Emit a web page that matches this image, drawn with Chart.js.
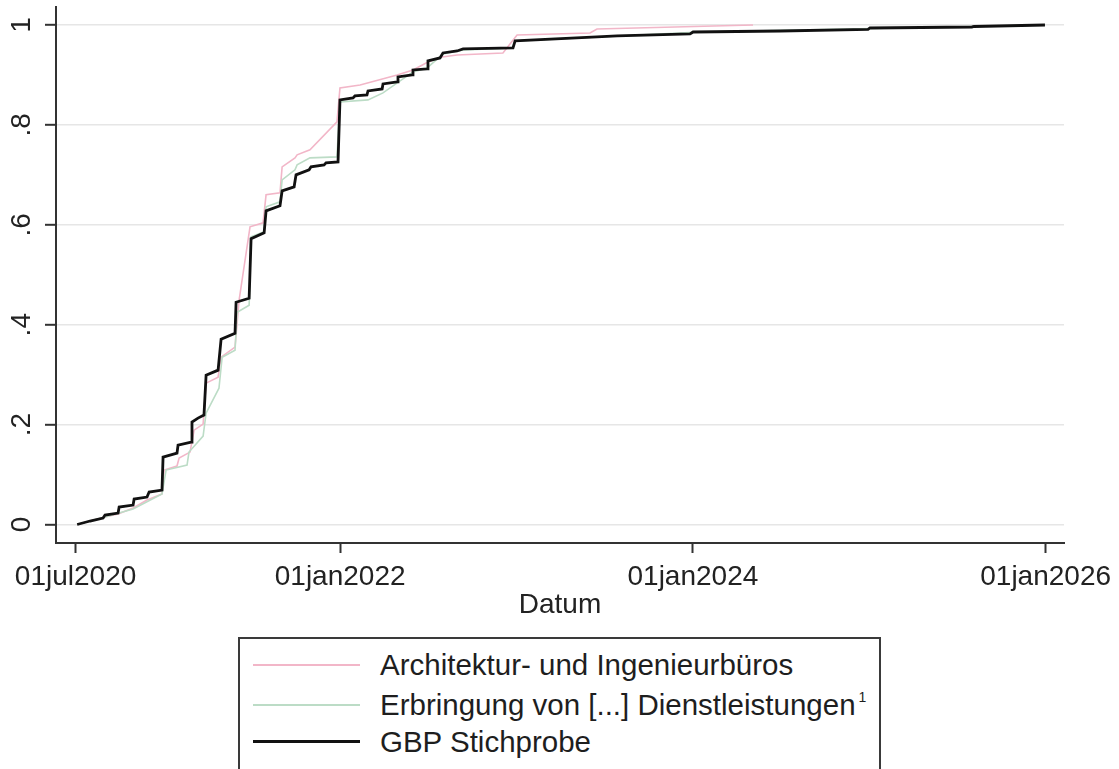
<!DOCTYPE html>
<html lang="de">
<head>
<meta charset="UTF-8">
<title>Kumulierte Verteilung nach Datum</title>
<script src="https://cdn.jsdelivr.net/npm/chart.js"></script>
<style>
    body { margin: 0; background: #fff; overflow: hidden; font-family: 'Liberation Sans', Arial, sans-serif; }
    .wrap { position: relative; width: 1119px; height: 769px; }
    #legend { position: absolute; left: 238px; top: 637px; width: 643px; height: 150px; border: 2px solid #3a3a3a; box-sizing: border-box; background: #fff; }
    .row { position: absolute; left: 0; height: 32px; width: 100%; }
    .key { position: absolute; left: 13px; width: 107px; top: 15px; }
    .txt { position: absolute; left: 140px; top: 0; line-height: 32px; font-size: 29.5px; color: #1e1e1e; white-space: nowrap; }
    .txt .fn { font-size: 14px; line-height: 0; position: relative; top: -13px; margin-left: 3px; }
</style>
</head>
<body>
<div class="wrap">
    <canvas id="cdf"></canvas>
    <div id="legend">
        <div class="row" style="top:10px"><div class="key" style="height:2px;background:#f2b6c8"></div><div class="txt">Architektur- und Ingenieurbüros</div></div>
        <div class="row" style="top:50px"><div class="key" style="height:2px;background:#bcdcc6"></div><div class="txt">Erbringung von [...] Dienstleistungen<span class="fn">1</span></div></div>
        <div class="row" style="top:87px"><div class="key" style="height:3px;top:14px;background:#111"></div><div class="txt">GBP Stichprobe</div></div>
    </div>
</div>

<script>
// x values are decimal years (2020.5 = 01jul2020)
const xTickValues = [2020.5, 2022, 2024, 2026];
const xTickLabels = ['01jul2020', '01jan2022', '01jan2024', '01jan2026'];
const yTickValues = [0, 0.2, 0.4, 0.6, 0.8, 1];
const yTickLabels = ['0', '.2', '.4', '.6', '.8', '1'];

const architekturDates = [
    2020.509, 2020.667, 2020.741, 2020.826, 2020.905, 2020.990, 2021.002, 2021.075,
    2021.087, 2021.149, 2021.172, 2021.223, 2021.240, 2021.308, 2021.325, 2021.404,
    2021.427, 2021.489, 2021.563, 2021.580, 2021.659, 2021.671, 2021.744, 2021.756,
    2021.829, 2021.982, 2021.999, 2022.113, 2022.323, 2022.413, 2022.498, 2022.578,
    2022.663, 2022.923, 2023.003, 2023.417, 2023.456, 2024.341
];
const architekturShares = [
    0, 0.015, 0.021, 0.033, 0.049, 0.061, 0.109, 0.117,
    0.133, 0.145, 0.189, 0.201, 0.283, 0.295, 0.335, 0.355,
    0.449, 0.596, 0.604, 0.660, 0.664, 0.716, 0.734, 0.740,
    0.750, 0.806, 0.874, 0.880, 0.900, 0.910, 0.926, 0.936,
    0.940, 0.944, 0.980, 0.984, 0.992, 1
];

const dienstDates = [
    2020.509, 2020.667, 2020.826, 2020.990, 2021.013, 2021.132, 2021.143, 2021.223,
    2021.240, 2021.313, 2021.331, 2021.404, 2021.416, 2021.484, 2021.495, 2021.569,
    2021.580, 2021.659, 2021.671, 2021.744, 2021.756, 2021.829, 2021.982, 2021.999,
    2022.158, 2022.243, 2022.413, 2022.493, 2022.583, 2022.697, 2022.980, 2022.992,
    2024.040, 2025.996
];
const dienstShares = [
    0, 0.015, 0.031, 0.061, 0.109, 0.119, 0.145, 0.177,
    0.223, 0.273, 0.335, 0.349, 0.425, 0.439, 0.576, 0.586,
    0.636, 0.646, 0.690, 0.710, 0.720, 0.734, 0.736, 0.846,
    0.850, 0.864, 0.906, 0.914, 0.942, 0.950, 0.954, 0.968,
    0.986, 1
];

const gbpDates = [
    2020.509, 2020.582, 2020.656, 2020.667, 2020.741, 2020.747, 2020.826, 2020.832,
    2020.905, 2020.917, 2020.990, 2020.996, 2021.075, 2021.081, 2021.155, 2021.160,
    2021.194, 2021.228, 2021.240, 2021.308, 2021.325, 2021.404, 2021.410, 2021.484,
    2021.495, 2021.569, 2021.580, 2021.659, 2021.671, 2021.739, 2021.750, 2021.824,
    2021.835, 2021.909, 2021.920, 2021.988, 2021.999, 2022.073, 2022.084, 2022.152,
    2022.158, 2022.238, 2022.243, 2022.323, 2022.328, 2022.408, 2022.413, 2022.493,
    2022.498, 2022.566, 2022.583, 2022.663, 2022.697, 2022.980, 2022.992, 2023.456,
    2023.570, 2023.984, 2024.001, 2024.494, 2024.993, 2025.004, 2025.582, 2025.594,
    2025.996
];
const gbpShares = [
    0, 0.007, 0.013, 0.019, 0.023, 0.035, 0.039, 0.051,
    0.055, 0.065, 0.069, 0.135, 0.143, 0.159, 0.165, 0.205,
    0.213, 0.219, 0.299, 0.309, 0.371, 0.383, 0.445, 0.453,
    0.572, 0.584, 0.628, 0.638, 0.668, 0.676, 0.700, 0.710,
    0.716, 0.720, 0.724, 0.726, 0.850, 0.854, 0.858, 0.860,
    0.868, 0.872, 0.882, 0.886, 0.896, 0.900, 0.910, 0.912,
    0.928, 0.934, 0.944, 0.948, 0.952, 0.954, 0.968, 0.976,
    0.978, 0.982, 0.986, 0.988, 0.991, 0.994, 0.996, 0.997,
    1
];

function points(dates, shares) {
    return dates.map((d, i) => ({ x: d, y: shares[i] }));
}

const font = { family: "'Liberation Sans', Arial, sans-serif", size: 28 };
const axisColor = '#333';

new Chart(document.getElementById('cdf'), {
    type: 'line',
    data: {
        datasets: [
            { label: 'Architektur- und Ingenieurbüros', data: points(architekturDates, architekturShares),
              borderColor: '#f2b6c8', borderWidth: 1.6, order: 2 },
            { label: 'Erbringung von [...] Dienstleistungen', data: points(dienstDates, dienstShares),
              borderColor: '#bcdcc6', borderWidth: 1.6, order: 1 },
            { label: 'GBP Stichprobe', data: points(gbpDates, gbpShares),
              borderColor: '#111', borderWidth: 2.8, order: 0 }
        ]
    },
    options: {
        responsive: true,
        maintainAspectRatio: false,
        animation: false,
        elements: { point: { radius: 0 }, line: { tension: 0 } },
        layout: { padding: { top: 7, left: 0, right: 55, bottom: 144 } },
        plugins: { legend: { display: false }, tooltip: { enabled: false } },
        scales: {
            x: {
                type: 'linear',
                min: 2020.389,
                max: 2026.104,
                afterBuildTicks: s => { s.ticks = xTickValues.map(v => ({ value: v })); },
                afterFit: s => { s.height = 82; s.paddingLeft = 0; s.paddingRight = 0; },
                ticks: {
                    autoSkip: false, maxRotation: 0, padding: 7, color: '#222', font: font,
                    callback: v => xTickLabels[xTickValues.indexOf(v)]
                },
                grid: { drawOnChartArea: false, tickLength: 10, tickColor: axisColor, tickWidth: 2 },
                border: { display: true, color: axisColor, width: 2 },
                title: { display: true, text: 'Datum', color: '#222', font: font, padding: { top: 0, bottom: 3 } }
            },
            y: {
                type: 'linear',
                min: -0.037,
                max: 1.036,
                afterBuildTicks: s => { s.ticks = yTickValues.map(v => ({ value: v })); },
                afterFit: s => { s.width = 56; s.paddingTop = 0; s.paddingBottom = 0; },
                ticks: {
                    minRotation: 90, maxRotation: 90, crossAlign: 'center', padding: 11,
                    color: '#222', font: font,
                    callback: v => yTickLabels[yTickValues.indexOf(v)]
                },
                grid: { color: '#e6e6e6', lineWidth: 1.6, tickLength: 11, tickColor: axisColor, tickWidth: 2 },
                border: { display: true, color: axisColor, width: 2 }
            }
        }
    }
});
</script>
</body>
</html>
